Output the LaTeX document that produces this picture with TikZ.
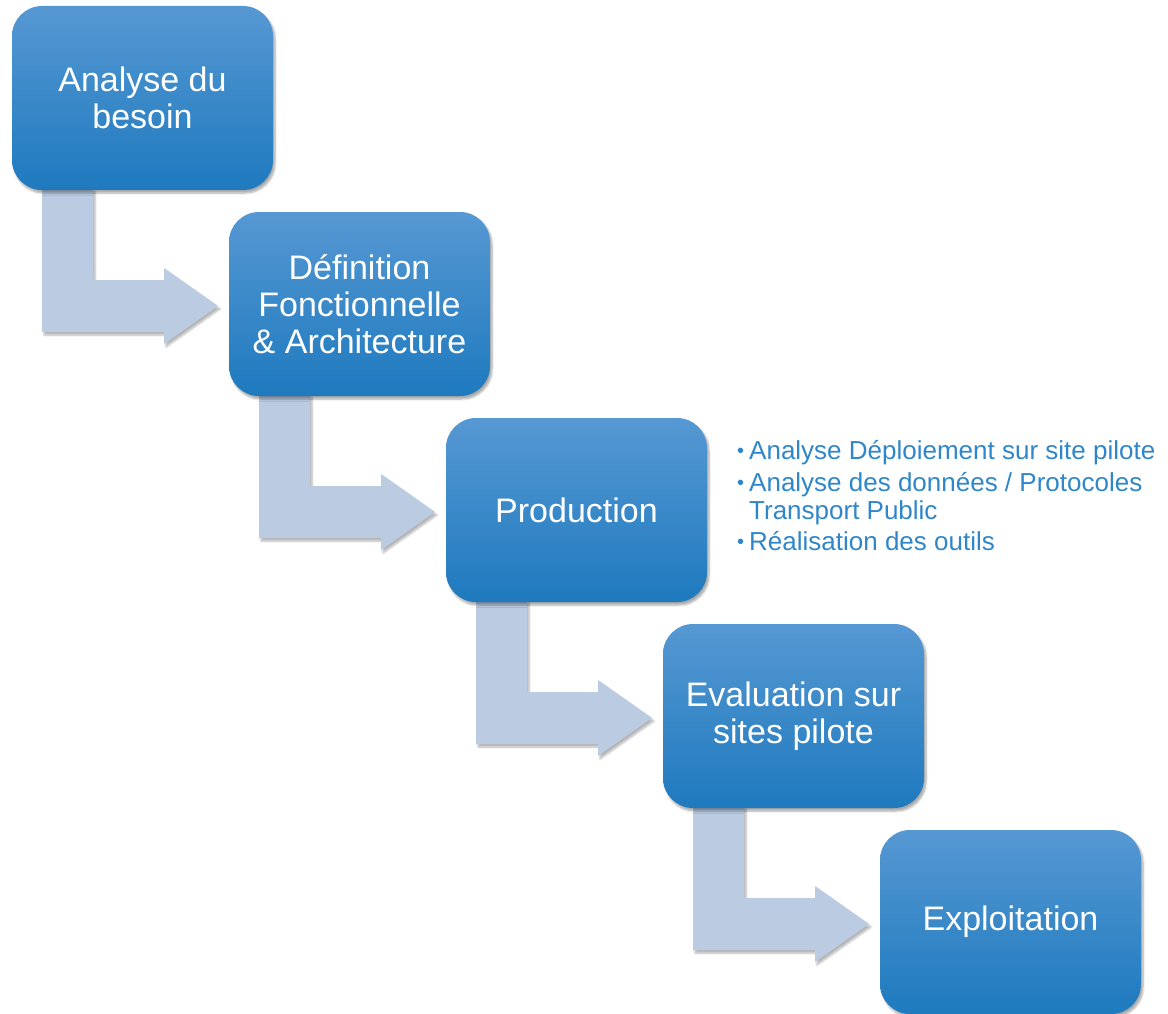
\documentclass[tikz,border=0pt]{standalone}
\usepackage{fontspec}
\setmainfont{Liberation Sans}
\usetikzlibrary{calc,shadows.blur}
\definecolor{boxtop}{RGB}{86,152,211}
\definecolor{boxmid}{RGB}{46,138,204}
\definecolor{boxbot}{RGB}{30,122,190}
\definecolor{arrowfill}{RGB}{187,204,226}
\definecolor{notecol}{RGB}{47,134,200}
\tikzset{
  stepbox/.style={rectangle, rounded corners=30pt, minimum width=261pt, minimum height=184pt,
    inner sep=0pt, outer sep=0pt, align=center, text=white,
    top color=boxtop, middle color=boxmid, bottom color=boxbot,
    font=\fontsize{34}{37}\selectfont,
    blur shadow={shadow blur steps=6, shadow xshift=2pt, shadow yshift=-3pt, shadow opacity=35}},
  bendarrow/.style={fill=arrowfill,
    blur shadow={shadow blur steps=6, shadow xshift=2pt, shadow yshift=-3pt, shadow opacity=30}},
  note/.style={anchor=base west, inner sep=0pt, text=notecol, font=\fontsize{26}{28}\selectfont}
}
\newcommand\bendarrowfrom[1]{%
  \path[bendarrow] ($(#1.south west)+(30,-2)$) -- ++(0,144) -- ++(122,0) -- ++(0,12)
    -- ++(54,-38) -- ++(-54,-38) -- ++(0,12) -- ++(-71,0) -- ++(0,-92) -- cycle;}
\newcommand\nb{\makebox[12pt][l]{\raisebox{1.5pt}{\fontsize{20}{20}\selectfont •}}}
\begin{document}
\begin{tikzpicture}[x=1pt,y=-1pt]
\useasboundingbox (0,0) rectangle (1168,1014);
% positions of boxes (centres)
\coordinate (c1) at (142.5,98);
\coordinate (c2) at (359.5,304);
\coordinate (c3) at (576.5,510);
\coordinate (c4) at (793.5,716);
\coordinate (c5) at (1010.5,922);
% invisible anchors for arrows
\node[minimum width=261pt,minimum height=184pt,inner sep=0pt,outer sep=0pt] (a1) at (c1) {};
\node[minimum width=261pt,minimum height=184pt,inner sep=0pt,outer sep=0pt] (a2) at (c2) {};
\node[minimum width=261pt,minimum height=184pt,inner sep=0pt,outer sep=0pt] (a3) at (c3) {};
\node[minimum width=261pt,minimum height=184pt,inner sep=0pt,outer sep=0pt] (a4) at (c4) {};
\bendarrowfrom{a1}
\bendarrowfrom{a2}
\bendarrowfrom{a3}
\bendarrowfrom{a4}
\node[stepbox] (b1) at (c1) {Analyse du\\besoin};
\node[stepbox] (b2) at (c2) {Définition\\Fonctionnelle\\\& Architecture};
\node[stepbox] (b3) at (c3) {Production};
\node[stepbox] (b4) at (c4) {Evaluation sur\\sites pilote};
\node[stepbox] (b5) at (c5) {Exploitation};
% notes
\node[note] (n1) at (737,459) {\nb Analyse Déploiement sur site pilote};
\node[note] (n2) at (737,491) {\nb Analyse des données / Protocoles};
\node[note] (n2b) at (749,519) {Transport Public};
\node[note] (n3) at (737,550) {\nb Réalisation des outils};
\end{tikzpicture}
\end{document}
